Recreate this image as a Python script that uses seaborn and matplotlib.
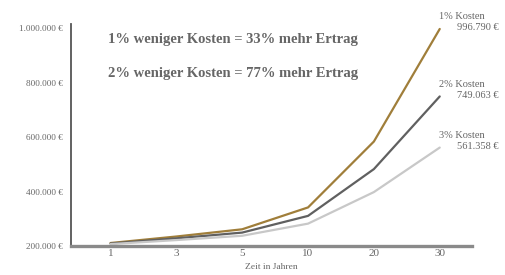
import matplotlib
matplotlib.use("Agg")
import matplotlib.pyplot as plt
import seaborn as sns
import pandas as pd

years = ["1", "3", "5", "10", "20", "30"]
kosten_1 = [211000, 234848, 261392, 341629, 583553, 996790]
kosten_2 = [209000, 228234, 249236, 310594, 482343, 749063]
kosten_3 = [207000, 221743, 237537, 282120, 397958, 561358]
series_names = ["1% Kosten", "2% Kosten", "3% Kosten"]
end_labels = ["996.790 €", "749.063 €", "561.358 €"]
colors = ["#A07E3A", "#606060", "#C8C8C8"]
y_ticks = [200000, 400000, 600000, 800000, 1000000]
y_tick_labels = ["200.000 €", "400.000 €", "600.000 €", "800.000 €", "1.000.000 €"]
headline_1 = "1% weniger Kosten = 33% mehr Ertrag"
headline_2 = "2% weniger Kosten = 77% mehr Ertrag"
x_label = "Zeit in Jahren"

rows = []
for name, vals in zip(series_names, [kosten_1, kosten_2, kosten_3]):
    for i, v in enumerate(vals):
        rows.append({"pos": i, "wert": v, "serie": name})
df = pd.DataFrame(rows)

sns.set_theme(style="white")
plt.rcParams["font.family"] = ["Liberation Serif", "DejaVu Serif"]

fig = plt.figure(figsize=(5.06, 2.75), dpi=100)
ax = fig.add_axes([71/506, 1-246/275, (472-71)/506, (246-24)/275])

sns.lineplot(data=df, x="pos", y="wert", hue="serie", palette=colors,
             hue_order=series_names, linewidth=1.6, legend=False, ax=ax)

ax.set_xlim(-0.6, 5.49)
ax.set_ylim(200000, 1015000)
ax.set_xticks(range(len(years)))
ax.set_xticklabels(years, fontsize=8, color="#666666")
ax.set_yticks(y_ticks)
ax.set_yticklabels(y_tick_labels, fontsize=6.6, color="#666666")
ax.tick_params(axis="both", length=0)
ax.tick_params(axis="y", pad=6)
ax.tick_params(axis="x", pad=2.5)
ax.set_xlabel(x_label, fontsize=6.8, color="#666666", labelpad=3)
ax.set_ylabel("")

for s in ["top", "right"]:
    ax.spines[s].set_visible(False)
ax.spines["left"].set_color("#555555")
ax.spines["left"].set_linewidth(1.3)
ax.spines["bottom"].set_color("#8a8a8a")
ax.spines["bottom"].set_linewidth(2.4)

last = [kosten_1[-1], kosten_2[-1], kosten_3[-1]]
for name, lab, v in zip(series_names, end_labels, last):
    ax.annotate(name, xy=(len(years)-1, v), xytext=(-1, 12), textcoords="offset pixels",
                ha="left", va="center", fontsize=7.5, color="#666666", annotation_clip=False)
    ax.annotate(lab, xy=(len(years)-1, v), xytext=(17, 1), textcoords="offset pixels",
                ha="left", va="center", fontsize=7.5, color="#666666", annotation_clip=False)

fig.text(108/506, 1-40/275, headline_1, fontsize=10.5, fontweight="bold",
         color="#666666", ha="left", va="center")
fig.text(108/506, 1-74/275, headline_2, fontsize=10.5, fontweight="bold",
         color="#666666", ha="left", va="center")

fig.savefig("out.png", dpi=100)
